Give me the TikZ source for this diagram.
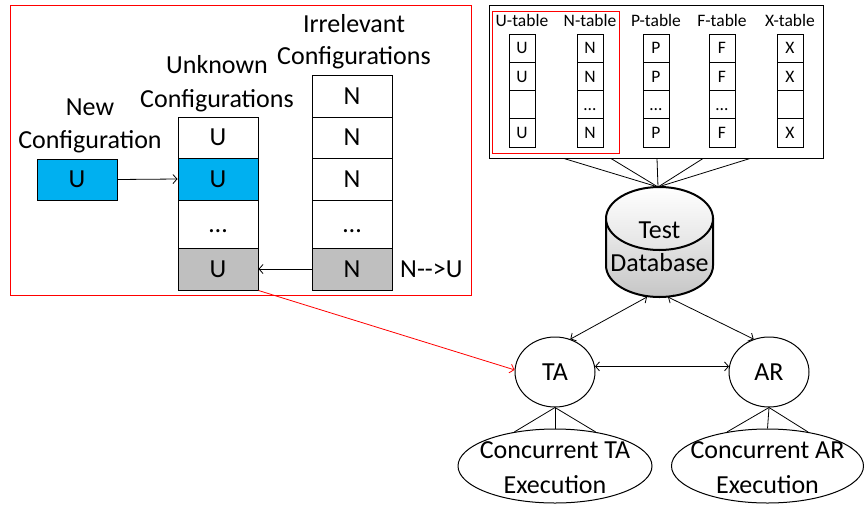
\documentclass[tikz,border=0pt]{standalone}
\usepackage{fontspec}
\setmainfont{Carlito}
\usetikzlibrary{arrows.meta,shapes.geometric,calc}
\definecolor{cfgblue}{HTML}{00B0F0}
\definecolor{cfggray}{HTML}{BFBFBF}
\begin{document}
\begin{tikzpicture}[x=1pt,y=-1pt,
  big/.style={font=\fontsize{26}{33}\selectfont, inner sep=0pt},
  small/.style={font=\fontsize{17.5}{21}\selectfont, inner sep=0pt},
  lbl/.style={big, anchor=base},
  cell/.style={draw, line width=1pt, minimum width=80pt, inner sep=0pt, big,
               text height=16.7pt, text depth=0pt},
  tcell/.style={draw, line width=0.9pt, minimum width=26pt, minimum height=28.25pt,
                inner sep=0pt, small, text height=11.3pt, text depth=0pt},
  conn/.style={line width=0.8pt},
  tip/.style={-{Straight Barb[length=4pt,width=9pt]}},
  bitip/.style={{Straight Barb[length=4pt,width=9pt]}-{Straight Barb[length=4pt,width=9pt]}},
  oval/.style={draw, ellipse, line width=1pt, inner sep=0pt, big,
               text height=16.7pt, text depth=0pt},
]
\useasboundingbox (0,0) rectangle (864,504);

% ---------- configuration queues ----------
\draw[red, line width=1.2pt] (10.5,5.5) rectangle (471.5,295.5);

\node[lbl] (newl1) at (90,115) {New};
\node[lbl] (newl2) at (90,148) {Configuration};
\node[lbl] (unk1) at (217,73) {Unknown};
\node[lbl] (unk2) at (217,107) {Configurations};
\node[lbl] (irr1) at (354,32) {Irrelevant};
\node[lbl] (irr2) at (354,64) {Configurations};

\node[cell, fill=cfgblue, minimum height=41pt] (new) at (77,179.5) {U};

\node[cell, minimum height=41pt] (u1) at (218,137.5) {U};
\node[cell, fill=cfgblue, minimum height=42pt] (u2) at (218,179) {U};
\node[cell, minimum height=48pt] (u3) at (218,224) {…};
\node[cell, fill=cfggray, minimum height=42pt] (u4) at (218,269) {U};

\node[cell, minimum height=42pt] (i0) at (352,96) {N};
\node[cell, minimum height=41pt] (i1) at (352,137.5) {N};
\node[cell, minimum height=42pt] (i2) at (352,179) {N};
\node[cell, minimum height=48pt] (i3) at (352,224) {…};
\node[cell, fill=cfggray, minimum height=42pt] (i4) at (352,269) {N};

\node[big, anchor=west, text height=16.7pt, text depth=0pt] (nu) at (400,269) {N-{}-{}>U};

\draw[conn, tip] (new.east) -- (u2.west);
\draw[conn, tip] (i4.west) -- (u4.east);

% ---------- result tables ----------
\node[draw, line width=1pt, minimum width=334pt, minimum height=153pt, inner sep=0pt]
  (tables) at (656,81.5) {};
\draw[red, line width=1.2pt] (492.5,11.5) rectangle (619.5,153.5);

\foreach \nm/\x/\hd/\ra/\rb/\rc/\rd in
  {ut/522/U-table/U/U/{}/U, nt/590/N-table/N/N/…/N, pt/656/P-table/P/P/…/P,
   ft/722/F-table/F/F/…/F, xt/790/X-table/X/X/{}/X}{
  \node[small, anchor=base] (\nm h) at (\x,26) {\hd};
  \node[tcell] (\nm1) at (\x,48.1) {\ra};
  \node[tcell] (\nm2) at (\x,76.4) {\rb};
  \node[tcell] (\nm3) at (\x,104.6) {\rc};
  \node[tcell] (\nm4) at (\x,132.9) {\rd};
}

% ---------- test database ----------
\coordinate (dbtop) at (658,187);
\foreach \dx in {-92,-45,1,47,94}
  \draw[conn] ($(tables.south)+(\dx,0)$) -- (dbtop);

\path[draw, line width=2pt, top color=gray!12, bottom color=gray!45]
  (606,218.5) -- (606,265.5)
  arc[start angle=180, end angle=360, x radius=53.5pt, y radius=31.5pt]
  -- (713,218.5) -- cycle;
\draw[line width=2pt, top color=white, bottom color=gray!22]
  (659.5,218.5) ellipse [x radius=53.5pt, y radius=31.5pt];
\node[lbl] (dbt1) at (659.5,238.5) {Test};
\node[lbl] (dbt2) at (659.5,271) {Database};
\coordinate (dbl) at (647,297);
\coordinate (dbr) at (668,297);

% ---------- agents ----------
\node[oval, minimum width=80pt, minimum height=70pt] (ta) at (555,372) {TA};
\node[oval, minimum width=80pt, minimum height=70pt] (ar) at (769,372) {AR};
\node[oval, minimum width=194pt, minimum height=74pt] (cta) at (555,466) {};
\node[oval, minimum width=192pt, minimum height=74pt] (cra) at (767.5,466) {};
\node[lbl] (cta1) at (555,458) {Concurrent TA};
\node[lbl] (cta2) at (555,493) {Execution};
\node[lbl] (cra1) at (767.5,458) {Concurrent AR};
\node[lbl] (cra2) at (767.5,493) {Execution};

\draw[conn, bitip] (dbl) -- (ta.65);
\draw[conn, bitip] (dbr) -- (ar.115);
\draw[conn, bitip] (ta.8) -- (ar.172);

\foreach \a in {140,90,40} {
  \draw[conn] (ta.south) -- (cta.\a);
  \draw[conn] (ar.south) -- (cra.\a);
}

\draw[red, conn, tip] (u4.south east) -- (ta.177);
\end{tikzpicture}
\end{document}
